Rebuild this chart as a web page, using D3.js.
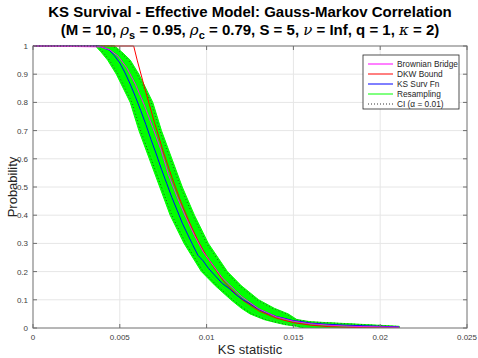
<!DOCTYPE html>
<html>
<head>
<meta charset="utf-8">
<script src="https://cdn.jsdelivr.net/npm/d3@7"></script>
<style>
  body { margin: 0; background: #fff; }
  svg { display: block; font-family: "Liberation Sans", Arial, Helvetica, sans-serif; }
  .tick-label { font-size: 8px; fill: #404040; }
  .axis-label { font-size: 13px; fill: #262626; }
  .title { font-size: 15px; font-weight: bold; fill: #000; }
  .legend-text { font-size: 8.3px; fill: #262626; }
</style>
</head>
<body>
<script>
// tick values / labels
const xTicks = [0, 0.005, 0.01, 0.015, 0.02, 0.025];
const xTickLabels = ["0", "0.005", "0.01", "0.015", "0.02", "0.025"];
const yTicks = [0, 0.1, 0.2, 0.3, 0.4, 0.5, 0.6, 0.7, 0.8, 0.9, 1];
const yTickLabels = ["0", "0.1", "0.2", "0.3", "0.4", "0.5", "0.6", "0.7", "0.8", "0.9", "1"];

// Brownian bridge (magenta)
const bbX = [0, 0.0039, 0.0044, 0.0049, 0.0054, 0.0059, 0.0064, 0.0069, 0.0074, 0.0078, 0.0083, 0.0088, 0.0093, 0.0098, 0.0109, 0.0120, 0.0130, 0.0140, 0.0150, 0.0160, 0.0170, 0.0180, 0.0190, 0.0200, 0.0211];
const bbP = [1, 0.997, 0.987, 0.964, 0.923, 0.864, 0.792, 0.711, 0.627, 0.544, 0.465, 0.393, 0.328, 0.270, 0.178, 0.112, 0.068, 0.040, 0.024, 0.015, 0.010, 0.007, 0.005, 0.004, 0.003];

// DKW bound (red)
const dkwX = [0, 0.0058, 0.0060, 0.0065, 0.0070, 0.0075, 0.0080, 0.0085, 0.0090, 0.0095, 0.0100, 0.0110, 0.0120, 0.0130, 0.0140, 0.0150, 0.0160, 0.0170, 0.0180, 0.0190, 0.0211];
const dkwP = [1, 1, 0.950, 0.836, 0.728, 0.626, 0.534, 0.450, 0.376, 0.310, 0.254, 0.164, 0.102, 0.061, 0.035, 0.019, 0.010, 0.005, 0.0025, 0.0011, 0.0002];

// KS survival function (blue)
const ksX = [0, 0.0038, 0.0041, 0.0044, 0.0047, 0.0050, 0.0053, 0.0056, 0.0059, 0.0062, 0.0065, 0.0068, 0.0071, 0.0074, 0.0077, 0.0080, 0.0083, 0.0086, 0.0089, 0.0092, 0.0095, 0.0098, 0.0101, 0.0105, 0.0109, 0.0113, 0.0117, 0.0121, 0.0125, 0.0130, 0.0135, 0.0140, 0.0145, 0.0150, 0.0155, 0.0160, 0.0170, 0.0180, 0.0190, 0.0200, 0.0211];
const ksP = [1, 1, 0.993, 0.985, 0.965, 0.94, 0.905, 0.865, 0.82, 0.772, 0.722, 0.668, 0.617, 0.563, 0.513, 0.463, 0.418, 0.372, 0.333, 0.295, 0.258, 0.238, 0.212, 0.185, 0.158, 0.14, 0.118, 0.1, 0.086, 0.066, 0.053, 0.041, 0.034, 0.026, 0.022, 0.017, 0.013, 0.010, 0.008, 0.006, 0.004];

// resampling envelope + a few individual resamples (green), CI (black dotted)
const resP = [1, 0.98, 0.95, 0.9, 0.8, 0.7, 0.6, 0.5, 0.4, 0.3, 0.2, 0.15, 0.1, 0.07, 0.05, 0.03, 0.022, 0.012, 0.006, 0];
const resLoX = [0.0036, 0.0039, 0.0043, 0.0048, 0.0056, 0.0061, 0.0067, 0.0073, 0.0079, 0.0087, 0.0097, 0.0105, 0.0114, 0.0120, 0.0125, 0.0133, 0.0138, 0.0145, 0.0152, 0.0155];
const resHiX = [0.0047, 0.0051, 0.0056, 0.0061, 0.0069, 0.0074, 0.0080, 0.0086, 0.0093, 0.0101, 0.0112, 0.0120, 0.0130, 0.0139, 0.0147, 0.0152, 0.0160, 0.0192, 0.0211, 0.0211];
const resAX = [0.0037, 0.0040, 0.0044, 0.0049, 0.0057, 0.0062, 0.0069, 0.0075, 0.0080, 0.0089, 0.0099, 0.0108, 0.0116, 0.0123, 0.0128, 0.0136, 0.0141, 0.0149, 0.0156, 0.0158];
const resBX = [0.0046, 0.0050, 0.0055, 0.0060, 0.0068, 0.0073, 0.0079, 0.0085, 0.0092, 0.0100, 0.0111, 0.0119, 0.0129, 0.0138, 0.0146, 0.0151, 0.0158, 0.0188, 0.0205, 0.0210];
const ciLoX = [0.0037, 0.0040, 0.0044, 0.0049, 0.0057, 0.0062, 0.0068, 0.0074, 0.0080, 0.0088, 0.0098, 0.0106, 0.0115, 0.0121, 0.0126, 0.0134, 0.0139, 0.0146, 0.0153, 0.0156];
const ciHiX = [0.0046, 0.0050, 0.0055, 0.0060, 0.0068, 0.0073, 0.0079, 0.0085, 0.0092, 0.0100, 0.0111, 0.0119, 0.0129, 0.0138, 0.0146, 0.0151, 0.0159, 0.0190, 0.0209, 0.0210];

const legendNames = ["Brownian Bridge", "DKW Bound", "KS Surv Fn", "Resampling", "CI (\u03b1 = 0.01)"];

const W = 478, H = 358;
const margin = { top: 46, right: 11, bottom: 30, left: 33 };
const pw = W - margin.left - margin.right;
const ph = H - margin.top - margin.bottom;

const svg = d3.select("body").append("svg").attr("width", W).attr("height", H);
svg.append("rect").attr("width", W).attr("height", H).attr("fill", "#fff");

const x = d3.scaleLinear().domain([0, 0.025]).range([0, pw]);
const y = d3.scaleLinear().domain([0, 1]).range([ph, 0]);

const g = svg.append("g").attr("transform", `translate(${margin.left},${margin.top})`);

// grid
g.append("g").selectAll("line").data(xTicks.slice(1, -1)).join("line")
  .attr("x1", d => x(d)).attr("x2", d => x(d)).attr("y1", 0).attr("y2", ph)
  .attr("stroke", "#e6e6e6").attr("stroke-width", 1);
g.append("g").selectAll("line").data(yTicks.slice(1, -1)).join("line")
  .attr("y1", d => y(d)).attr("y2", d => y(d)).attr("x1", 0).attr("x2", pw)
  .attr("stroke", "#e6e6e6").attr("stroke-width", 1);

const clip = svg.append("defs").append("clipPath").attr("id", "plotclip");
clip.append("rect").attr("x", 0).attr("y", -1).attr("width", pw).attr("height", ph + 1);

const plot = g.append("g").attr("clip-path", "url(#plotclip)");

const zip = (xs, ps) => xs.map((v, i) => [v, ps[i]]);
const line = d3.line().x(d => x(d[0])).y(d => y(d[1]));

// resampling band
const band = d3.area()
  .y(d => y(d.p))
  .x0(d => x(d.lo))
  .x1(d => x(d.hi));
const bandData = resP.map((p, i) => ({ p: p, lo: resLoX[i], hi: resHiX[i] }));
plot.append("path").datum(bandData)
  .attr("fill", "#00ff00").attr("stroke", "#00ff00").attr("stroke-width", 1)
  .attr("d", band);
plot.append("path").datum([[resLoX[0], 1], [resHiX[0], 1]])
  .attr("fill", "none").attr("stroke", "#00ff00").attr("stroke-width", 2)
  .attr("d", line);
[resAX, resBX].forEach(xs => {
  plot.append("path").datum(zip(xs, resP))
    .attr("fill", "none").attr("stroke", "#22e622").attr("stroke-width", 0.8)
    .attr("d", line);
});

// CI dotted
[ciLoX, ciHiX].forEach(xs => {
  plot.append("path").datum([[0, 1]].concat(zip(xs, resP)))
    .attr("fill", "none").attr("stroke", "#111").attr("stroke-width", 0.7)
    .attr("stroke-dasharray", "0.8,2.6")
    .attr("d", line);
});

// DKW, KS, Brownian bridge
plot.append("path").datum(zip(dkwX, dkwP))
  .attr("fill", "none").attr("stroke", "#ff0000").attr("stroke-width", 1)
  .attr("d", line);
plot.append("path").datum(zip(ksX, ksP))
  .attr("fill", "none").attr("stroke", "#0000ff").attr("stroke-width", 1)
  .attr("d", line);
plot.append("path").datum(zip(bbX, bbP))
  .attr("fill", "none").attr("stroke", "#ff00ff").attr("stroke-width", 1)
  .attr("d", line);
plot.append("path").datum([[0, 1], [0.0037, 1]])
  .attr("fill", "none").attr("stroke", "#000").attr("stroke-width", 0.8)
  .attr("stroke-dasharray", "1,2").attr("d", line);

// axes box and ticks
const axisColor = "#6e6e6e";
g.append("rect").attr("x", 0).attr("y", 0).attr("width", pw).attr("height", ph)
  .attr("fill", "none").attr("stroke", axisColor).attr("stroke-width", 1);

const tl = 4;
const ticks = g.append("g").attr("stroke", axisColor).attr("stroke-width", 1);
xTicks.forEach(t => {
  ticks.append("line").attr("x1", x(t)).attr("x2", x(t)).attr("y1", ph).attr("y2", ph - tl);
  ticks.append("line").attr("x1", x(t)).attr("x2", x(t)).attr("y1", 0).attr("y2", tl);
});
yTicks.forEach(t => {
  ticks.append("line").attr("y1", y(t)).attr("y2", y(t)).attr("x1", 0).attr("x2", tl);
  ticks.append("line").attr("y1", y(t)).attr("y2", y(t)).attr("x1", pw).attr("x2", pw - tl);
});

g.append("g").selectAll("text").data(xTicks).join("text")
  .attr("class", "tick-label")
  .attr("x", d => x(d)).attr("y", ph + 12)
  .attr("text-anchor", "middle")
  .text((d, i) => xTickLabels[i]);
g.append("g").selectAll("text").data(yTicks).join("text")
  .attr("class", "tick-label")
  .attr("x", -5).attr("y", d => y(d) + 3)
  .attr("text-anchor", "end")
  .text((d, i) => yTickLabels[i]);

// axis labels
svg.append("text").attr("class", "axis-label")
  .attr("x", margin.left + pw / 2).attr("y", H - 4)
  .attr("text-anchor", "middle").text("KS statistic");
svg.append("text").attr("class", "axis-label")
  .attr("transform", `translate(17,${margin.top + ph / 2}) rotate(-90)`)
  .attr("text-anchor", "middle").text("Probability");

// title
const cx = margin.left + pw / 2;
svg.append("text").attr("class", "title")
  .attr("x", cx).attr("y", 17).attr("text-anchor", "middle")
  .text("KS Survival - Effective Model: Gauss-Markov Correlation");
const t2 = svg.append("text").attr("class", "title")
  .attr("x", cx).attr("y", 35).attr("text-anchor", "middle");
const parts = [
  ["(M = 10, ", "b"], ["\u03c1", "g"], ["s", "sub"], [" = 0.95, ", "b"],
  ["\u03c1", "g"], ["c", "sub"], [" = 0.79, S = 5, ", "b"],
  ["\u03bd", "g"], [" = Inf, q = 1, ", "b"], ["\u03ba", "g"], [" = 2)", "b"]
];
let shifted = false;
parts.forEach(([s, k]) => {
  const ts = t2.append("tspan").text(s);
  if (k === "g") ts.attr("font-weight", "normal").attr("font-style", "italic").attr("font-family", "'DejaVu Serif', serif");
  if (k === "sub") {
    ts.attr("font-size", "11px").attr("dy", 4);
    shifted = true;
  } else if (shifted) {
    ts.attr("dy", -4);
    shifted = false;
  }
});

// legend
const lg = svg.append("g").attr("transform", "translate(363,55)");
lg.append("rect").attr("width", 96).attr("height", 54)
  .attr("fill", "#fff").attr("stroke", "#262626").attr("stroke-width", 0.8);
const legendStyles = [
  { c: "#ff00ff" }, { c: "#ff0000" }, { c: "#0000ff" }, { c: "#00ff00" }, { c: "#000", dash: "1,2" }
];
legendNames.forEach((name, i) => {
  const yy = 9 + i * 10;
  lg.append("line").attr("x1", 5).attr("x2", 30).attr("y1", yy).attr("y2", yy)
    .attr("stroke", legendStyles[i].c).attr("stroke-width", legendStyles[i].dash ? 0.8 : 1)
    .attr("stroke-dasharray", legendStyles[i].dash || null);
  lg.append("text").attr("class", "legend-text").attr("x", 34).attr("y", yy + 3)
    .text(name);
});
</script>
</body>
</html>
